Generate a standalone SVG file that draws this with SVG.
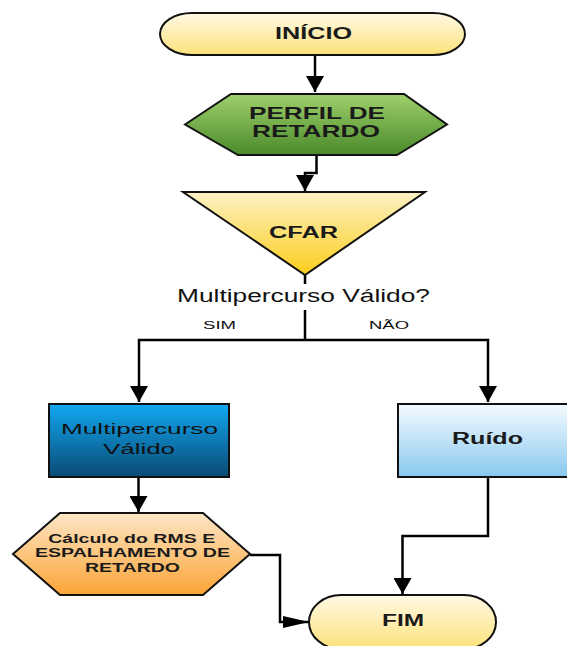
<svg xmlns="http://www.w3.org/2000/svg" width="567" height="646" viewBox="0 0 567 646">
<defs>
<linearGradient id="gPill" x1="0" y1="0" x2="0" y2="1"><stop offset="0" stop-color="#fff9e6"/><stop offset="1" stop-color="#fde27a"/></linearGradient>
<linearGradient id="gGreen" x1="0" y1="0" x2="0" y2="1"><stop offset="0" stop-color="#9fd06c"/><stop offset="1" stop-color="#4a8a2a"/></linearGradient>
<linearGradient id="gTri" x1="0" y1="0" x2="0" y2="1"><stop offset="0" stop-color="#fdf1c4"/><stop offset="1" stop-color="#fcce1c"/></linearGradient>
<linearGradient id="gBlue" x1="0" y1="0" x2="0" y2="1"><stop offset="0" stop-color="#10a8f2"/><stop offset="1" stop-color="#0a4a74"/></linearGradient>
<linearGradient id="gLight" x1="0" y1="0" x2="0" y2="1"><stop offset="0" stop-color="#f6fbff"/><stop offset="1" stop-color="#88c8ee"/></linearGradient>
<linearGradient id="gOrange" x1="0" y1="0" x2="0" y2="1"><stop offset="0" stop-color="#fde6c6"/><stop offset="1" stop-color="#fba436"/></linearGradient>
<marker id="arrowV" markerUnits="userSpaceOnUse" markerWidth="16" markerHeight="18" refX="16" refY="9" orient="auto"><path d="M0,0 L16,9 L0,18 z" fill="#000"/></marker>
<marker id="arrowH" markerUnits="userSpaceOnUse" markerWidth="26" markerHeight="12" refX="26" refY="6" orient="auto"><path d="M0,0 L26,6 L0,12 z" fill="#000"/></marker>
</defs>
<style>
.shape{stroke:#111;stroke-width:2}
.conn{fill:none;stroke:#000;stroke-width:2.5}
.b{font-family:"Liberation Sans",Arial,sans-serif;font-weight:bold;fill:#1a1a1a;text-anchor:middle}
.r{font-family:"Liberation Sans",Arial,sans-serif;fill:#111;text-anchor:middle}
</style>
<g id="connectors">
<path class="conn" d="M315,55 V92" marker-end="url(#arrowV)"/>
<path class="conn" d="M316.5,155 V173 H305 V191" marker-end="url(#arrowV)"/>
<path class="conn" d="M305,275 V284 M305,310 V340"/>
<path class="conn" d="M305,340 H139 V402" marker-end="url(#arrowV)"/>
<path class="conn" d="M305,340 H488 V402" marker-end="url(#arrowV)"/>
<path class="conn" d="M138.5,477 V512" marker-end="url(#arrowV)"/>
<path class="conn" d="M488,477 V536 H402.5 V594" marker-end="url(#arrowV)"/>
<path class="conn" d="M250,555 H280 V622 H309" marker-end="url(#arrowH)"/>
<text class="r" x="303.5" y="302.3" font-size="18" textLength="253" lengthAdjust="spacingAndGlyphs">Multipercurso Válido?</text>
<text class="r" x="219.5" y="329" font-size="11.5" textLength="33" lengthAdjust="spacingAndGlyphs">SIM</text>
<text class="r" x="389" y="329" font-size="11.5" textLength="40" lengthAdjust="spacingAndGlyphs">NÃO</text>
</g>
<g id="inicio">
<rect class="shape" x="160" y="13" width="305" height="42" rx="32" ry="21" fill="url(#gPill)"/>
<text class="b" x="313.5" y="39.3" font-size="16.5" textLength="77" lengthAdjust="spacingAndGlyphs">INÍCIO</text>
</g>
<g id="perfil">
<polygon class="shape" points="185,124.5 231,94 404,94 447,124.5 397,155 238,155" fill="url(#gGreen)"/>
<text class="b" x="317" y="119.3" font-size="16.5" textLength="136" lengthAdjust="spacingAndGlyphs">PERFIL DE</text>
<text class="b" x="316" y="137.3" font-size="16.5" textLength="128" lengthAdjust="spacingAndGlyphs">RETARDO</text>
</g>
<g id="cfar">
<polygon class="shape" points="183,192 425,192 305,275" fill="url(#gTri)"/>
<text class="b" x="303.5" y="238.3" font-size="16" textLength="69" lengthAdjust="spacingAndGlyphs">CFAR</text>
</g>
<g id="valido">
<rect class="shape" x="49" y="404" width="180" height="73" fill="url(#gBlue)"/>
<text class="r" x="139.5" y="434" font-size="15.5" fill="#0a1420" textLength="157" lengthAdjust="spacingAndGlyphs">Multipercurso</text>
<text class="r" x="139" y="454" font-size="15.5" fill="#0a1420" textLength="72" lengthAdjust="spacingAndGlyphs">Válido</text>
</g>
<g id="ruido">
<rect class="shape" x="398" y="404" width="180" height="73" fill="url(#gLight)"/>
<text class="b" x="487.5" y="444.3" font-size="16" textLength="71" lengthAdjust="spacingAndGlyphs">Ruído</text>
</g>
<g id="calculo">
<polygon class="shape" points="13,554 60,513 203,513 250,554 203,595 60,595" fill="url(#gOrange)"/>
<text class="b" x="131.7" y="542.7" font-size="13" textLength="167" lengthAdjust="spacingAndGlyphs">Cálculo do RMS E</text>
<text class="b" x="132.5" y="557.3" font-size="13" textLength="195" lengthAdjust="spacingAndGlyphs">ESPALHAMENTO DE</text>
<text class="b" x="132.5" y="571.7" font-size="13" textLength="95" lengthAdjust="spacingAndGlyphs">RETARDO</text>
</g>
<g id="fim">
<rect class="shape" x="309" y="595" width="187" height="54" rx="32" ry="27" fill="url(#gPill)"/>
<text class="b" x="403" y="625.7" font-size="16" textLength="42" lengthAdjust="spacingAndGlyphs">FIM</text>
</g>
</svg>
